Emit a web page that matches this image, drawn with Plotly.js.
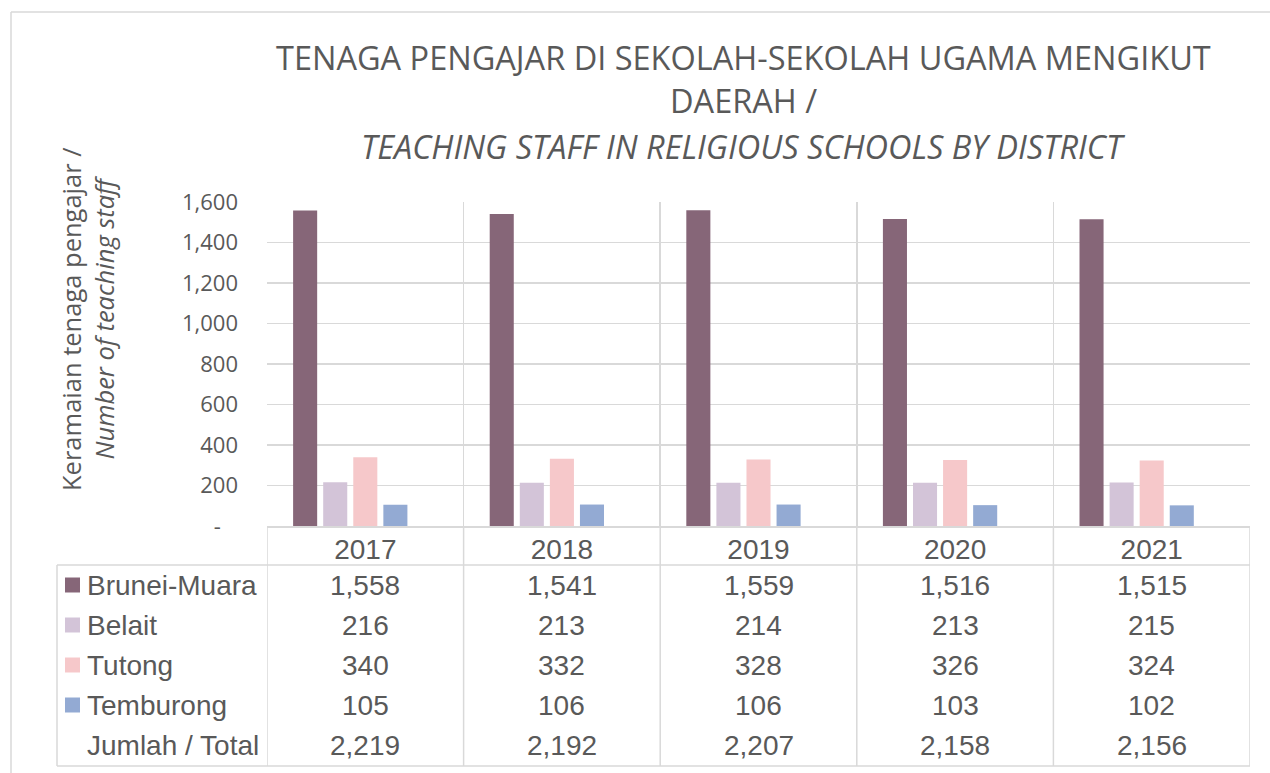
<!DOCTYPE html>
<html>
<head>
<meta charset="utf-8">
<script src="https://cdn.plot.ly/plotly-3.0.1.min.js"></script>
<style>html,body{margin:0;padding:0;background:#fff;}#chart{width:1270px;height:773px;}</style>
</head>
<body>
<div id="chart"></div>
<script>
// ---- data ----
const years = ['2017', '2018', '2019', '2020', '2021'];
const bruneiMuara = [1558, 1541, 1559, 1516, 1515];
const belait = [216, 213, 214, 213, 215];
const tutong = [340, 332, 328, 326, 324];
const temburong = [105, 106, 106, 103, 102];
const total = [2219, 2192, 2207, 2158, 2156];
const seriesNames = ['Brunei-Muara', 'Belait', 'Tutong', 'Temburong'];
const totalLabel = 'Jumlah / Total';
const yTickVals = [0, 200, 400, 600, 800, 1000, 1200, 1400, 1600];
const yTickText = ['-\u00a0\u00a0\u00a0', '200', '400', '600', '800', '1,000', '1,200', '1,400', '1,600'];
const titleLines = ['TENAGA PENGAJAR DI SEKOLAH-SEKOLAH UGAMA MENGIKUT', 'DAERAH /', '<i>TEACHING STAFF IN RELIGIOUS SCHOOLS BY DISTRICT</i>'];
const yTitle = 'Keramaian tenaga pengajar /<br><i>Number of teaching staff</i>';

// ---- styling / geometry ----
const colors = ['#866678', '#d3c4d8', '#f6c8ca', '#93aad3'];
const W = 1270, H = 773;
const PL = 267, PR = 1250, PT = 202, PB = 526;
const px = x => (x - PL) / (PR - PL);
const py = y => (PB - y) / (PB - PT);
const grid = '#d9d9d9';
const txt = '#595959';
const calib = 'Open Sans, sans-serif';
const arial = 'Liberation Sans, Arial, sans-serif';
const fmt = v => v.toLocaleString('en-US');

const seriesData = [bruneiMuara, belait, tutong, temburong];
const traces = seriesData.map((vals, i) => ({
  type: 'bar', name: seriesNames[i], x: years, y: vals,
  marker: {color: colors[i], line: {width: 0}}, hoverinfo: 'name+y'
}));
traces.push({type: 'bar', name: totalLabel, x: years, y: total,
  marker: {color: 'rgba(0,0,0,0)'}, hoverinfo: 'skip'});

const rowY = [585, 625, 665, 705, 745];
const tableLeft = 57, tableTop = 565, tableBottom = 766;

const shapes = [];
const line = (x0, y0, x1, y1, xref) => ({type: 'line', xref: xref || 'paper', yref: 'paper',
  x0: x0, y0: y0, x1: x1, y1: y1, line: {color: grid, width: 1.5}, layer: 'above'});
// outer chart frame (left + top)
shapes.push(line(px(11), py(12), px(11), py(H + 5)));
shapes.push(line(px(11), py(12), px(W + 5), py(12)));
// table lines
shapes.push(line(px(tableLeft), py(tableTop), px(PR), py(tableTop)));
shapes.push(line(px(tableLeft), py(tableBottom), px(PR), py(tableBottom)));
shapes.push(line(px(tableLeft), py(tableTop), px(tableLeft), py(tableBottom)));
for (let i = 0; i <= years.length; i++) {
  shapes.push(line(i - 0.5, py(PB), i - 0.5, py(tableBottom), 'x'));
}
// legend keys
for (let i = 0; i < seriesNames.length; i++) {
  shapes.push({type: 'rect', xref: 'paper', yref: 'paper',
    x0: px(65), x1: px(80), y0: py(rowY[i] - 7.5), y1: py(rowY[i] + 7.5),
    fillcolor: colors[i], line: {width: 0}});
}

const annotations = [];
const titleY = [57, 101, 147];
titleLines.forEach((t, i) => annotations.push({text: t, xref: 'paper', yref: 'paper',
  x: px(743), y: py(titleY[i]), xanchor: 'center', yanchor: 'middle', showarrow: false,
  font: {family: calib, size: 32.5, color: txt}}));
annotations.push({text: yTitle, xref: 'paper', yref: 'paper', x: px(87), y: py(319),
  xanchor: 'center', yanchor: 'middle', textangle: -90, showarrow: false,
  font: {family: calib, size: 25.5, color: txt}});
const rowLabels = seriesNames.concat([totalLabel]);
const rowVals = seriesData.concat([total]);
rowLabels.forEach((lab, r) => {
  annotations.push({text: lab, xref: 'paper', yref: 'paper', x: px(85), y: py(rowY[r]),
    xanchor: 'left', yanchor: 'middle', showarrow: false,
    font: {family: arial, size: 28, color: txt}});
  rowVals[r].forEach((v, c) => annotations.push({text: fmt(v), xref: 'x', yref: 'paper',
    x: c, y: py(rowY[r]), xanchor: 'center', yanchor: 'middle', showarrow: false,
    font: {family: arial, size: 28, color: txt}}));
});

const layout = {
  width: W, height: H,
  margin: {l: PL, r: W - PR, t: PT, b: H - PB, pad: 0},
  paper_bgcolor: '#fff', plot_bgcolor: '#fff',
  showlegend: false,
  barmode: 'group', bargap: 0.235, bargroupgap: 0.2,
  xaxis: {type: 'category', range: [-0.5, years.length - 0.5], tickson: 'boundaries',
    showgrid: true, gridcolor: grid, gridwidth: 1.5, ticks: '', showline: true,
    linecolor: grid, linewidth: 1.5, tickfont: {family: arial, size: 28, color: txt},
    ticklabelstandoff: -2, fixedrange: true},
  yaxis: {range: [0, 1600], tickvals: yTickVals, ticktext: yTickText, showgrid: true,
    gridcolor: grid, gridwidth: 1.5, zeroline: false, showline: false, ticks: '',
    tickfont: {family: calib, size: 22, color: txt}, ticklabelstandoff: 28, fixedrange: true},
  shapes: shapes,
  annotations: annotations
};

Plotly.newPlot('chart', traces, layout, {displayModeBar: false, staticPlot: true});
</script>
</body>
</html>
